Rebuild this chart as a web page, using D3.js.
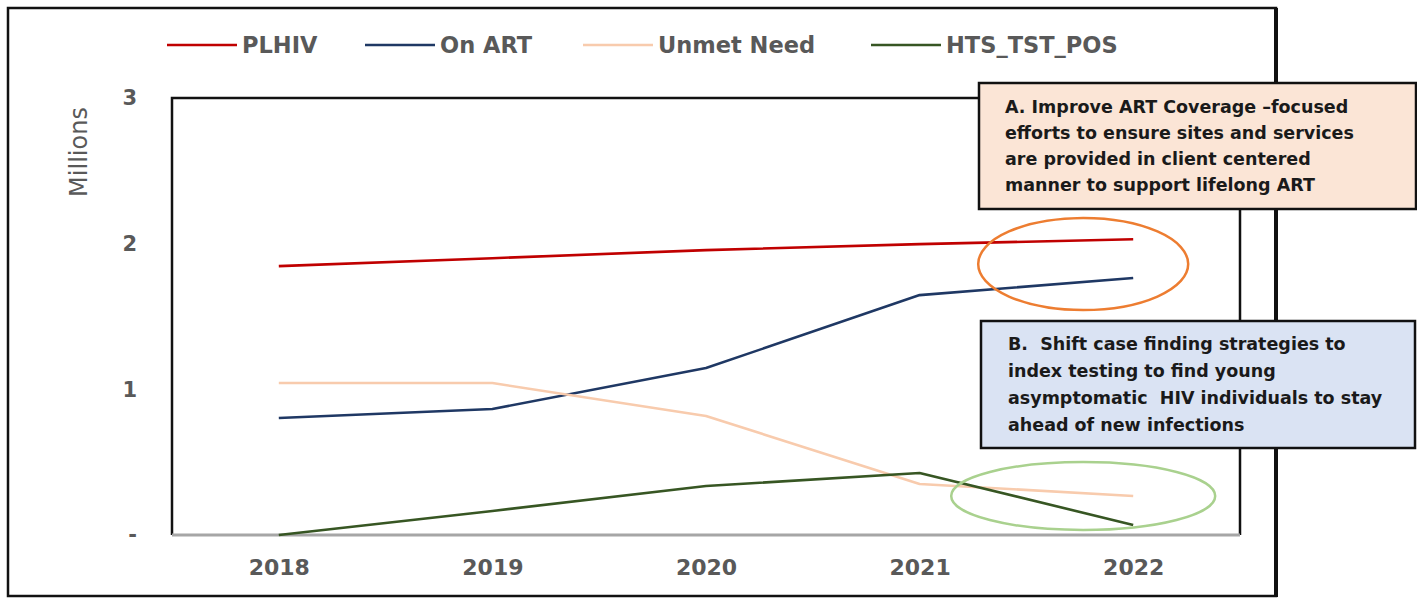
<!DOCTYPE html>
<html>
<head>
<meta charset="utf-8">
<script src="https://cdn.jsdelivr.net/npm/d3@7"></script>
<style>
  html, body { margin: 0; padding: 0; background: #fff; }
  svg { display: block; }
  text { font-family: "DejaVu Sans", sans-serif; }
</style>
</head>
<body>
<svg id="chart" width="1417" height="598"></svg>
<script>
// Years on the x axis
const years = ["2018", "2019", "2020", "2021", "2022"];

// Series values, in millions
const plhiv      = [1.846, 1.900, 1.956, 1.997, 2.030];
const onArt      = [0.803, 0.865, 1.146, 1.647, 1.764];
const unmetNeed  = [1.043, 1.043, 0.817, 0.350, 0.268];
const htsTstPos  = [0.000, 0.165, 0.336, 0.426, 0.069];

const seriesNames = ["PLHIV", "On ART", "Unmet Need", "HTS_TST_POS"];
const seriesColors = ["#c00000", "#1f3864", "#f8cbad", "#375623"];

// Y axis ticks (0 shown as a dash)
const yTicks = [0, 1, 2, 3];
const yTickLabels = ["-", "1", "2", "3"];

// Callout texts
const calloutA = [
  "A. Improve ART Coverage \u2013focused",
  "efforts to ensure sites and services",
  "are provided in client centered",
  "manner to support lifelong ART"
];
const calloutB = [
  "B.  Shift case finding strategies to",
  "index testing to find young",
  "asymptomatic  HIV individuals to stay",
  "ahead of new infections"
];

const series = seriesNames.map((name, i) => ({
  name,
  color: seriesColors[i],
  values: [plhiv, onArt, unmetNeed, htsTstPos][i]
}));

const svg = d3.select("#chart");

// Outer frame
svg.append("rect")
  .attr("x", 8).attr("y", 8)
  .attr("width", 1268).attr("height", 588)
  .attr("fill", "#fff")
  .attr("stroke", "#111").attr("stroke-width", 2.5);
svg.append("line")
  .attr("x1", 1276).attr("x2", 1276).attr("y1", 8).attr("y2", 597)
  .attr("stroke", "#111").attr("stroke-width", 4);

const plot = { left: 172, right: 1240, top: 98, bottom: 535 };

const x = d3.scalePoint()
  .domain(years)
  .range([plot.left, plot.right])
  .padding(0.5);

const y = d3.scaleLinear()
  .domain([0, 3])
  .range([plot.bottom, plot.top]);

// Plot frame: black left/top/right, gray baseline
svg.append("path")
  .attr("d", `M${plot.left},${plot.bottom}V${plot.top}H${plot.right}V${plot.bottom}`)
  .attr("fill", "none")
  .attr("stroke", "#111").attr("stroke-width", 2.5);

// X axis
const xAxis = svg.append("g")
  .attr("transform", `translate(0,${plot.bottom})`)
  .call(d3.axisBottom(x).tickSize(0).tickPadding(24));
xAxis.select(".domain")
  .attr("d", `M${plot.left},0H${plot.right}`)
  .attr("stroke", "#a6a6a6").attr("stroke-width", 3);
xAxis.selectAll("text")
  .attr("fill", "#595959")
  .attr("font-size", 22)
  .attr("font-weight", 700)
  .attr("font-family", "DejaVu Sans, sans-serif");

// Y axis
const yAxis = svg.append("g")
  .attr("transform", `translate(${plot.left},0)`)
  .call(d3.axisLeft(y).tickValues(yTicks)
    .tickFormat((d, i) => yTickLabels[i])
    .tickSize(0).tickPadding(35));
yAxis.select(".domain").remove();
yAxis.selectAll("text")
  .attr("fill", "#595959")
  .attr("font-size", 21)
  .attr("font-weight", 700)
  .attr("font-family", "DejaVu Sans, sans-serif");

// Axis title
svg.append("text")
  .attr("transform", "translate(87,152) rotate(-90)")
  .attr("text-anchor", "middle")
  .attr("fill", "#595959")
  .attr("font-size", 24)
  .text("Millions");

// Series lines
const line = d3.line()
  .x((d, i) => x(years[i]))
  .y(d => y(d));

svg.append("g").selectAll("path")
  .data(series)
  .join("path")
  .attr("d", d => line(d.values))
  .attr("fill", "none")
  .attr("stroke", d => d.color)
  .attr("stroke-width", 2.6)
  .attr("stroke-linejoin", "round");

// Legend
const legendX = [167, 365, 583, 871];
const legend = svg.append("g").selectAll("g")
  .data(series)
  .join("g")
  .attr("transform", (d, i) => `translate(${legendX[i]},45)`);
legend.append("line")
  .attr("x1", 0).attr("x2", 70)
  .attr("stroke", d => d.color).attr("stroke-width", 2.6);
legend.append("text")
  .attr("x", 75).attr("y", 8)
  .attr("fill", "#595959")
  .attr("font-size", 22.5)
  .attr("font-weight", 700)
  .text(d => d.name);

// Highlight ellipses
svg.append("ellipse")
  .attr("cx", x("2022") - 50).attr("cy", 264)
  .attr("rx", 105).attr("ry", 46)
  .attr("fill", "none")
  .attr("stroke", "#ed7d31").attr("stroke-width", 2.5);
svg.append("ellipse")
  .attr("cx", x("2022") - 50).attr("cy", 496)
  .attr("rx", 132).attr("ry", 34)
  .attr("fill", "none")
  .attr("stroke", "#a9d18e").attr("stroke-width", 2.5);

// Callout boxes
function callout(bx, by, bw, bh, fill, lines, tx, ty, step) {
  const g = svg.append("g");
  g.append("rect")
    .attr("x", bx).attr("y", by)
    .attr("width", bw).attr("height", bh)
    .attr("fill", fill)
    .attr("stroke", "#111").attr("stroke-width", 2.5);
  g.append("g").selectAll("text")
    .data(lines)
    .join("text")
    .attr("x", tx)
    .attr("y", (d, i) => ty + i * step)
    .attr("fill", "#1a1a1a")
    .attr("font-size", 17.5)
    .attr("font-weight", 700)
    .style("white-space", "pre")
    .text(d => d);
}
callout(979, 83, 437, 126, "#fbe5d6", calloutA, 1005, 113, 26);
callout(981, 321, 434, 127, "#dae3f3", calloutB, 1008, 350, 27);
</script>
</body>
</html>
